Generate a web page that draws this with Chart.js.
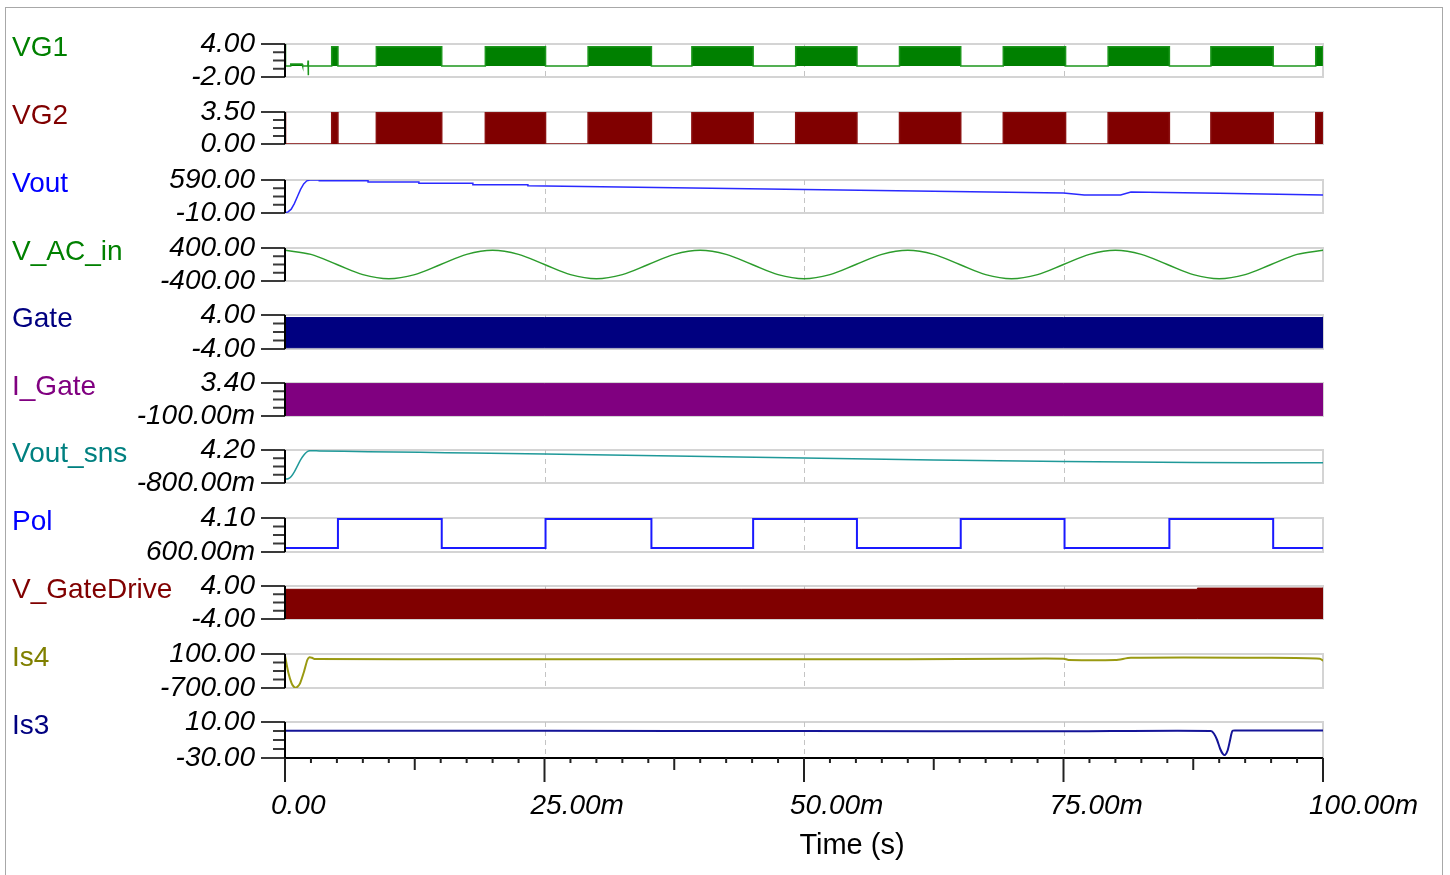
<!DOCTYPE html>
<html>
<head>
<meta charset="utf-8">
<script src="https://cdn.jsdelivr.net/npm/chart.js@4.4.0/dist/chart.umd.min.js"></script>
<style>
  body { margin: 0; background: #fff; }
  #wrap { position: relative; width: 1450px; height: 875px; overflow: hidden; background: #fff; }
  #frame { position: absolute; left: 5px; top: 7px; width: 1436px; height: 900px; border: 1px solid #a8a8a8; }
  #wrap canvas { position: absolute; left: 0; }
</style>
</head>
<body>
<div id="wrap"><div id="frame"></div></div>
<script>
// ---- time axis (ms) ----
var xTicks = [0, 25, 50, 75, 100];
var xTickLabels = ['0.00', '25.00m', '50.00m', '75.00m', '100.00m'];
var xTitle = 'Time (s)';

// ---- traces ----
var names = ['VG1', 'VG2', 'Vout', 'V_AC_in', 'Gate', 'I_Gate', 'Vout_sns', 'Pol', 'V_GateDrive', 'Is4', 'Is3'];
var yTop = [4, 3.5, 590, 400, 4, 3.4, 4.2, 4.1, 4, 100, 10];
var yBot = [-2, 0, -10, -400, -4, -0.1, -0.8, 0.6, -4, -700, -30];
var yTopLabels = ['4.00', '3.50', '590.00', '400.00', '4.00', '3.40', '4.20', '4.10', '4.00', '100.00', '10.00'];
var yBotLabels = ['-2.00', '0.00', '-10.00', '-400.00', '-4.00', '-100.00m', '-800.00m', '600.00m', '-4.00', '-700.00', '-30.00'];

// VG1 / VG2 switching bursts
var burstOn  = [4.5, 8.8, 19.3, 29.2, 39.2, 49.2, 59.2, 69.2, 79.3, 89.2, 99.3];
var burstOff = [5.1, 15.1, 25.1, 35.3, 45.1, 55.1, 65.1, 75.2, 85.2, 95.2, 100];
var vg1High = 3.5;
var vg2High = 3.45;
var vg1StartT = [0, 0.05, 0.5, 0.55, 1.65, 1.7, 2.2, 2.22, 2.24, 2.26];
var vg1StartV = [4.0, 0, 0, 0.35, 0.35, 0, 0, 1.0, -1.7, 0];
var vg2StartT = [0, 0.05];
var vg2StartV = [3.45, 0];

// Vout
var voutT = [0, 0.3, 0.6, 0.9, 1.2, 1.5, 1.8, 2.1, 2.4, 3.3, 3.3, 8.0, 8.0, 12.9, 12.9, 18.1, 18.1, 23.4, 23.4, 37.5, 50, 62.5, 75, 77, 80.5, 81.5, 90, 100];
var voutV = [-5, 10, 60, 160, 290, 420, 520, 575, 590, 590, 577, 577, 554, 554, 530, 530, 505, 505, 486, 450, 417, 385, 354, 317, 317, 372, 350, 317];

// V_AC_in
var acT = [0, 2.5, 5, 7.5, 10, 12.5, 15, 17.5, 20, 22.5, 25, 27.5, 30, 32.5, 35, 37.5, 40, 42.5, 45, 47.5, 50,
           52.5, 55, 57.5, 60, 62.5, 65, 67.5, 70, 72.5, 75, 77.5, 80, 82.5, 85, 87.5, 90, 92.5, 95, 97.5, 100];
var acV = [345, 245, 0, -245, -345, -245, 0, 245, 345, 245, 0, -245, -345, -245, 0, 245, 345, 245, 0, -245, -345,
           -245, 0, 245, 345, 245, 0, -245, -345, -245, 0, 245, 345, 245, 0, -245, -345, -245, 0, 245, 345];

// Gate, I_Gate, V_GateDrive (switching envelopes)
var gateT = [0, 100];
var gateHi = [3.4, 3.4];
var gateLo = [-3.7, -3.7];
var igateT = [0, 100];
var igateHi = [3.36, 3.36];
var igateLo = [-0.07, -0.07];
var gdT = [0, 87.9, 87.9, 100];
var gdHi = [3.2, 3.2, 3.5, 3.5];
var gdLo = [-3.98, -3.98, -3.88, -3.88];

// Vout_sns
var snsT = [0, 0.3, 0.6, 0.9, 1.2, 1.5, 1.8, 2.1, 2.4, 3.3, 8.0, 13, 18, 25, 37.5, 50, 62.5, 75, 87.5, 100];
var snsV = [-0.2, -0.15, 0.2, 0.9, 1.8, 2.7, 3.4, 3.9, 4.1, 4.05, 3.95, 3.85, 3.75, 3.6, 3.3, 3.0, 2.7, 2.45, 2.3, 2.25];

// Pol
var polT = [0, 5.1, 5.1, 15.1, 15.1, 25.1, 25.1, 35.3, 35.3, 45.1, 45.1, 55.1, 55.1, 65.1, 65.1, 75.1, 75.1, 85.2, 85.2, 95.2, 95.2, 100];
var polV = [1.0, 1.0, 4.0, 4.0, 1.0, 1.0, 4.0, 4.0, 1.0, 1.0, 4.0, 4.0, 1.0, 1.0, 4.0, 4.0, 1.0, 1.0, 4.0, 4.0, 1.0, 1.0];

// Is4
var is4T = [0, 0.33, 0.64, 0.85, 1.03, 1.2, 1.45, 1.83, 2.15, 2.34, 2.6, 2.9, 20, 40, 60, 70, 75, 75.5, 80, 81.5, 95, 99.7, 100];
var is4V = [55, -347, -590, -670, -692, -670, -590, -316, -41, 22, 10, -20, -25, -22, -25, -10, -10, -40, -40, 10, 10, -10, -60];

// Is3
var is3T = [0, 25, 50, 75, 89.2, 89.5, 89.8, 90.1, 90.35, 90.56, 90.8, 91.05, 91.27, 91.6, 100];
var is3V = [0.3, 0.2, 0, -0.3, 0, -3, -10, -20, -25.5, -26.7, -22, -10, 0, 0.5, 0.6];

// ---- layout ----
var panelTop = [44, 112, 180, 248, 315, 383, 450, 518, 586, 654, 722];
var panelBottom = [77, 144, 213, 281, 349, 416, 483, 552, 619, 688, 758];
var plotLeft = 285, plotRight = 1323, pageW = 1450, pageH = 875, margin = 17;
var nameColors = ['#008000', '#800000', '#0000ff', '#008000', '#000080', '#800080', '#008080', '#0000ff', '#800000', '#808000', '#000080'];
var tickFont = {family: '"Liberation Sans", Arial, sans-serif', size: 28, style: 'italic', lineHeight: 1};

function pts(t, v) {
  var out = [];
  for (var i = 0; i < t.length; i++) out.push({x: t[i], y: v[i]});
  return out;
}
function burstTrace(startT, startV, hi) {
  var out = pts(startT, startV);
  for (var j = 0; j < burstOn.length; j++) {
    out.push({x: burstOn[j], y: 0}, {x: burstOn[j], y: hi}, {x: burstOff[j], y: hi}, {x: burstOff[j], y: 0});
  }
  return out;
}
function line(data, color, width, tension) {
  return {data: data, borderColor: color, borderWidth: width || 1.5, tension: tension || 0, pointRadius: 0, fill: false};
}
function band(t, hi, lo, color) {
  return [
    {data: pts(t, hi), borderColor: color, backgroundColor: color, borderWidth: 1, pointRadius: 0, fill: '+1'},
    {data: pts(t, lo), borderColor: color, borderWidth: 1, pointRadius: 0, fill: false}
  ];
}

var panelSets = [
  [Object.assign(line(burstTrace(vg1StartT, vg1StartV, vg1High), '#1c961c', 1.5), {fill: 'origin', backgroundColor: '#008000'})],
  [Object.assign(line(burstTrace(vg2StartT, vg2StartV, vg2High), '#8a1010', 1.5), {fill: 'origin', backgroundColor: '#800000'})],
  [line(pts(voutT, voutV), '#2a2aff', 1.5, 0)],
  [Object.assign(line(pts(acT, acV), '#2c9c2c', 1.5), {cubicInterpolationMode: 'monotone'})],
  band(gateT, gateHi, gateLo, '#000080'),
  band(igateT, igateHi, igateLo, '#800080'),
  [line(pts(snsT, snsV), '#1f9999', 1.5, 0.2)],
  [line(pts(polT, polV), '#1a1aff', 2, 0)],
  band(gdT, gdHi, gdLo, '#800000'),
  [line(pts(is4T, is4V), '#9a9a12', 2, 0.25)],
  [line(pts(is3T, is3V), '#141498', 2, 0.25)]
];

var panelFrame = {
  id: 'panelFrame',
  beforeDatasetsDraw: function (chart, args, opts) {
    var ctx = chart.ctx, a = chart.chartArea, xs = chart.scales.x;
    ctx.save();
    ctx.strokeStyle = '#d4d4d4';
    ctx.lineWidth = 2;
    ctx.strokeRect(a.left, a.top, a.right - a.left, a.bottom - a.top);
    ctx.strokeStyle = '#c4c4c4';
    ctx.lineWidth = 1;
    ctx.setLineDash([5, 4]);
    xTicks.slice(1, -1).forEach(function (v) {
      var px = Math.round(xs.getPixelForValue(v)) + 0.5;
      ctx.beginPath(); ctx.moveTo(px, a.top); ctx.lineTo(px, a.bottom); ctx.stroke();
    });
    ctx.restore();
  },
  afterDatasetsDraw: function (chart, args, opts) {
    var ctx = chart.ctx, a = chart.chartArea, xs = chart.scales.x;
    ctx.save();
    ctx.strokeStyle = '#3a3a3a';
    ctx.lineWidth = 2;
    for (var k = 0; k <= 4; k++) {
      var y = a.top + (a.bottom - a.top) * k / 4;
      var len = (k === 0 || k === 4) ? 24 : 12;
      ctx.beginPath(); ctx.moveTo(a.left - len, y); ctx.lineTo(a.left, y); ctx.stroke();
    }
    ctx.strokeStyle = '#000';
    ctx.beginPath(); ctx.moveTo(a.left, a.top); ctx.lineTo(a.left, opts.last ? a.bottom + 24 : a.bottom); ctx.stroke();
    if (opts.last) {
      ctx.beginPath(); ctx.moveTo(a.left, a.bottom); ctx.lineTo(a.right, a.bottom); ctx.stroke();
      ctx.strokeStyle = '#222';
      for (var v = 0; v <= 100; v += 2.5) {
        var px = xs.getPixelForValue(v);
        var l = (v % 25 === 0) ? 24 : ((v % 12.5 === 0) ? 12 : 5);
        ctx.beginPath(); ctx.moveTo(px, a.bottom); ctx.lineTo(px, a.bottom + l); ctx.stroke();
      }
    }
    ctx.restore();
  },
  afterDraw: function (chart, args, opts) {
    var ctx = chart.ctx, a = chart.chartArea, xs = chart.scales.x;
    ctx.save();
    ctx.font = '28px "Liberation Sans", Arial, sans-serif';
    ctx.fillStyle = opts.color;
    ctx.textBaseline = 'middle';
    ctx.textAlign = 'left';
    ctx.fillText(opts.name, 12, a.top + 4);
    if (opts.last) {
      ctx.font = '29px "Liberation Sans", Arial, sans-serif';
      ctx.fillStyle = '#000';
      ctx.textAlign = 'center';
      ctx.fillText(xTitle, xs.getPixelForValue(50) + 48, a.bottom + 88);
    }
    ctx.restore();
  }
};

var wrap = document.getElementById('wrap');
names.forEach(function (name, i) {
  var last = i === names.length - 1;
  var top = panelTop[i] - margin;
  var h = last ? pageH - top : (panelBottom[i] - panelTop[i]) + 2 * margin;
  var cv = document.createElement('canvas');
  cv.width = pageW; cv.height = h;
  cv.style.top = top + 'px';
  wrap.appendChild(cv);

  var lo = yBot[i], hi = yTop[i];
  new Chart(cv, {
    type: 'line',
    data: {datasets: panelSets[i]},
    plugins: [panelFrame],
    options: {
      responsive: false,
      animation: false,
      events: [],
      layout: {padding: {left: 0, right: pageW - plotRight, top: margin, bottom: last ? 0 : margin}},
      plugins: {
        legend: {display: false},
        tooltip: {enabled: false},
        panelFrame: {name: name, color: nameColors[i], last: last}
      },
      scales: {
        x: {
          type: 'linear', min: 0, max: 100, display: last,
          afterFit: function (s) { if (last) s.height = pageH - panelBottom[i]; },
          afterBuildTicks: function (s) { s.ticks = xTicks.map(function (v) { return {value: v}; }); },
          grid: {display: true, drawOnChartArea: false, drawTicks: true, tickLength: 34, color: 'rgba(0,0,0,0)'},
          border: {display: false},
          ticks: {
            callback: function (v, idx) { return xTickLabels[idx]; },
            align: 'start', labelOffset: -14, padding: 0, maxRotation: 0, autoSkip: false,
            color: '#000', font: tickFont
          }
        },
        y: {
          min: lo, max: hi,
          afterFit: function (s) { s.width = plotLeft; },
          afterBuildTicks: function (s) { s.ticks = [{value: lo}, {value: hi}]; },
          grid: {display: true, drawOnChartArea: false, drawTicks: true, tickLength: 30, color: 'rgba(0,0,0,0)'},
          border: {display: false},
          ticks: {
            callback: function (v) { return v === hi ? yTopLabels[i] : yBotLabels[i]; },
            padding: 0, color: '#000', autoSkip: false,
            font: tickFont
          }
        }
      }
    }
  });
});
</script>
</body>
</html>
